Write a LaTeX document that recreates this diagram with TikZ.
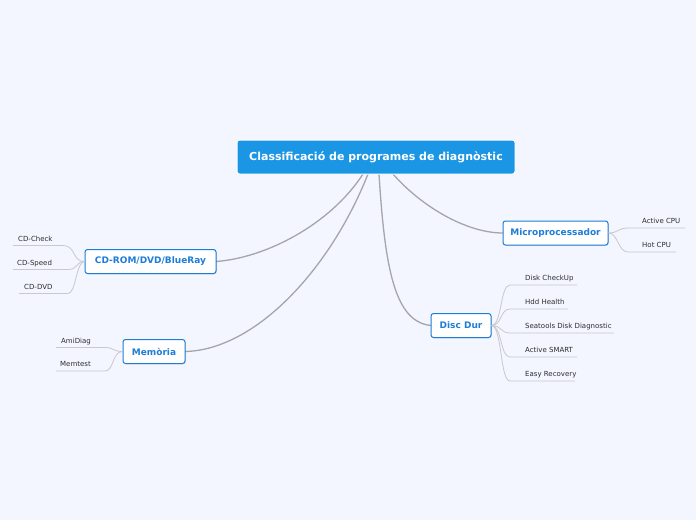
\documentclass[tikz,border=0pt]{standalone}
\usepackage{fontspec}
\setmainfont{DejaVu Sans}
\usetikzlibrary{shadows}
\definecolor{bg}{RGB}{243,246,254}
\definecolor{centralblue}{RGB}{27,150,228}
\definecolor{nodeblue}{RGB}{30,125,215}
\definecolor{mainline}{RGB}{165,165,170}
\definecolor{leafline}{RGB}{200,200,205}
\definecolor{leaftext}{RGB}{45,45,45}
\tikzset{
  central/.style={draw=white, line width=1pt, fill=centralblue, rounded corners=2.5pt,
    text=white, font=\fontsize{11}{13}\selectfont\bfseries, minimum width=278pt, minimum height=34pt, inner sep=0pt},
  mainbox/.style={draw=nodeblue, line width=1pt, fill=white, rounded corners=2.5pt,
    text=nodeblue, font=\fontsize{9}{11}\selectfont\bfseries, minimum height=24pt, inner xsep=6pt, inner ysep=0pt,
    drop shadow={shadow xshift=0.8pt, shadow yshift=-0.8pt, opacity=0.25}},
  leaf/.style={anchor=base west, text=leaftext, font=\fontsize{7}{8}\selectfont, inner sep=0pt},
  mainconn/.style={draw=mainline, line width=1.3pt},
  leafconn/.style={draw=leafline, line width=0.8pt},
}
\begin{document}
\begin{tikzpicture}[x=1pt,y=-1pt]
\fill[bg] (0,0) rectangle (696,520);
\useasboundingbox (0,0) rectangle (696,520);

% main connectors (drawn first)
\coordinate (c1) at (363,174);
\coordinate (c2) at (368,174);
\coordinate (c3) at (379,174);
\coordinate (c4) at (393,174);
\coordinate (cde) at (216,261.5);
\coordinate (meme) at (185,351.5);
\coordinate (ddw) at (431,325.5);
\coordinate (mpw) at (503,233);
\draw[mainconn] (c1) .. controls (330,225) and (265,258) .. (cde);
\draw[mainconn] (c2) .. controls (330,270) and (255,350) .. (meme);
\draw[mainconn] (c3) .. controls (385,270) and (395,322) .. (ddw);
\draw[mainconn] (c4) .. controls (420,205) and (465,233) .. (mpw);

% central
\node[central] (c) at (376,157) {Classificació de programes de diagnòstic};

% main nodes
\node[mainbox, minimum width=131pt] (cd) at (150.5,261.5) {CD-ROM/DVD/BlueRay};
\node[mainbox, minimum width=62pt] (mem) at (154,351.5) {Memòria};
\node[mainbox, minimum width=105pt] (mp) at (555.5,233) {Microprocessador};
\node[mainbox, minimum width=60pt] (dd) at (461,325.5) {Disc Dur};

% CD leaves
\node[leaf] (l1) at (18,241) {CD-Check};
\node[leaf] (l2) at (17,265) {CD-Speed};
\node[leaf] (l3) at (24,289) {CD-DVD};
\coordinate (u1a) at (13,245.5); \coordinate (u1b) at (63,245.5);
\coordinate (u2a) at (13,269.5); \coordinate (u2b) at (68,269.5);
\coordinate (u3a) at (19,293.5); \coordinate (u3b) at (68,293.5);
\draw[leafconn] (cd.west) .. controls (72,261.5) and (76,245.5) .. (u1b) -- (u1a);
\draw[leafconn] (cd.west) .. controls (76,261.5) and (78,269.5) .. (u2b) -- (u2a);
\draw[leafconn] (cd.west) .. controls (76,261.5) and (76,293.5) .. (u3b) -- (u3a);

% Memoria leaves
\node[leaf] (m1) at (61,343) {AmiDiag};
\node[leaf] (m2) at (60,366.5) {Memtest};
\coordinate (v1a) at (56,347.5); \coordinate (v1b) at (105,347.5);
\coordinate (v2a) at (56,371); \coordinate (v2b) at (105,371);
\draw[leafconn] (mem.west) .. controls (113,351.5) and (114,347.5) .. (v1b) -- (v1a);
\draw[leafconn] (mem.west) .. controls (112,351.5) and (114,371) .. (v2b) -- (v2a);

% Microprocessador leaves
\node[leaf] (p1) at (642,223.5) {Active CPU};
\node[leaf] (p2) at (642,247.5) {Hot CPU};
\coordinate (w1a) at (628,228); \coordinate (w1b) at (685,228);
\coordinate (w2a) at (628,252); \coordinate (w2b) at (676,252);
\draw[leafconn] (mp.east) .. controls (618,233) and (618,228) .. (w1a) -- (w1b);
\draw[leafconn] (mp.east) .. controls (618,233) and (618,252) .. (w2a) -- (w2b);

% Disc Dur leaves
\node[leaf] (d1) at (525,280.5) {Disk CheckUp};
\node[leaf] (d2) at (525,304.5) {Hdd Health};
\node[leaf] (d3) at (525,328.5) {Seatools Disk Diagnostic};
\node[leaf] (d4) at (525,352.5) {Active SMART};
\node[leaf] (d5) at (525,376.5) {Easy Recovery};
\coordinate (x1a) at (510,285); \coordinate (x1b) at (577,285);
\coordinate (x2a) at (510,309); \coordinate (x2b) at (568,309);
\coordinate (x3a) at (510,333); \coordinate (x3b) at (614,333);
\coordinate (x4a) at (510,357); \coordinate (x4b) at (577,357);
\coordinate (x5a) at (510,381); \coordinate (x5b) at (575,381);
\draw[leafconn] (dd.east) .. controls (502,325.5) and (500,285) .. (x1a) -- (x1b);
\draw[leafconn] (dd.east) .. controls (502,325.5) and (500,309) .. (x2a) -- (x2b);
\draw[leafconn] (dd.east) .. controls (502,325.5) and (500,333) .. (x3a) -- (x3b);
\draw[leafconn] (dd.east) .. controls (502,325.5) and (500,357) .. (x4a) -- (x4b);
\draw[leafconn] (dd.east) .. controls (502,325.5) and (500,381) .. (x5a) -- (x5b);
\end{tikzpicture}
\end{document}
